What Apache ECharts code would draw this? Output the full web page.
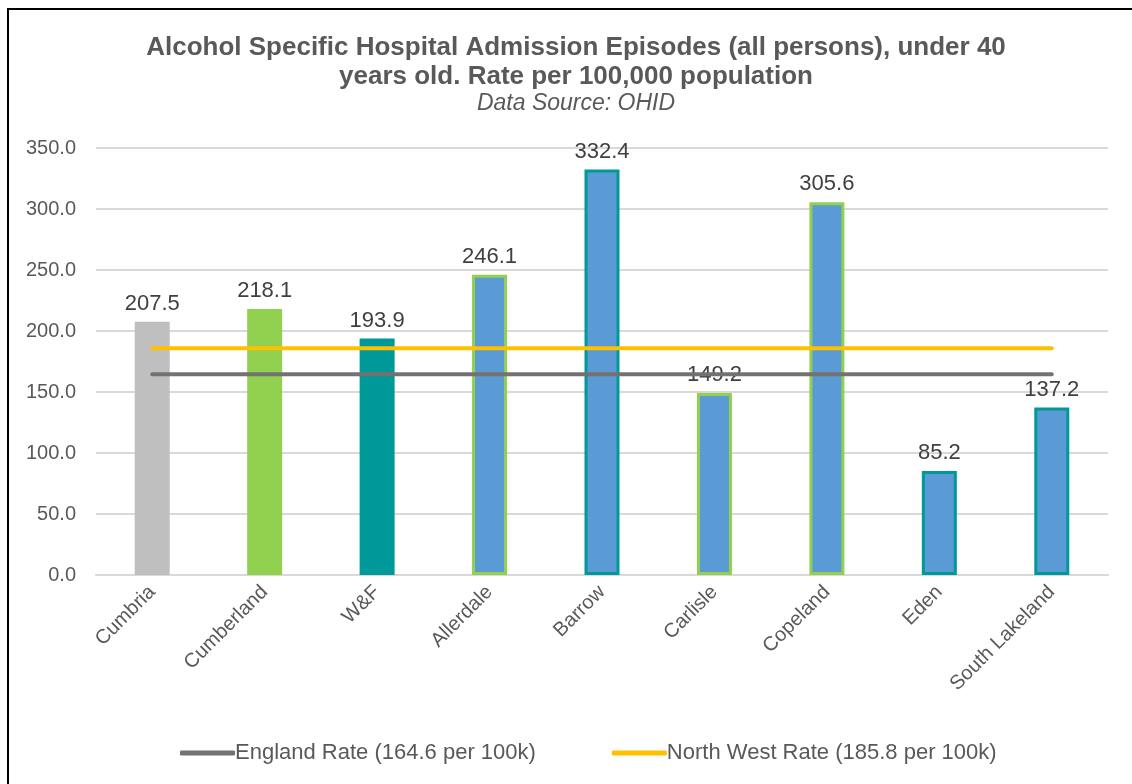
<!DOCTYPE html>
<html>
<head>
<meta charset="utf-8">
<script src="https://cdn.jsdelivr.net/npm/echarts@6/dist/echarts.min.js"></script>
<style>
html,body{margin:0;padding:0;background:#fff;}
#frame{position:absolute;left:7px;top:8px;width:1125px;height:776px;border-left:2px solid #000;border-top:2px solid #000;box-sizing:border-box;}
#chart{position:absolute;left:0;top:0;width:1132px;height:784px;}
</style>
</head>
<body>
<div id="frame"></div>
<div id="chart"></div>
<script>
const categories = ['Cumbria','Cumberland','W&F','Allerdale','Barrow','Carlisle','Copeland','Eden','South Lakeland'];
const rates = [207.5, 218.1, 193.9, 246.1, 332.4, 149.2, 305.6, 85.2, 137.2];
const englandRate = [164.6, 164.6, 164.6, 164.6, 164.6, 164.6, 164.6, 164.6, 164.6];
const northWestRate = [185.8, 185.8, 185.8, 185.8, 185.8, 185.8, 185.8, 185.8, 185.8];
const yTicks = [0, 50, 100, 150, 200, 250, 300, 350];

const styles = [
  {color:'#BFBFBF', borderColor:'#BFBFBF', borderWidth:0},
  {color:'#92D050', borderColor:'#92D050', borderWidth:0},
  {color:'#009999', borderColor:'#009999', borderWidth:0},
  {color:'#5B9BD5', borderColor:'#92D050', borderWidth:3},
  {color:'#5B9BD5', borderColor:'#009999', borderWidth:3},
  {color:'#5B9BD5', borderColor:'#92D050', borderWidth:3},
  {color:'#5B9BD5', borderColor:'#92D050', borderWidth:3},
  {color:'#5B9BD5', borderColor:'#009999', borderWidth:3},
  {color:'#5B9BD5', borderColor:'#009999', borderWidth:3}
];

const chart = echarts.init(document.getElementById('chart'));
const font = 'Liberation Sans, Arial, sans-serif';
chart.setOption({
  backgroundColor: 'transparent',
  animation: false,
  title: {
    text: 'Alcohol Specific Hospital Admission Episodes (all persons), under 40\nyears old. Rate per 100,000 population',
    subtext: 'Data Source: OHID',
    left: 571, top: 28, textAlign: 'center',
    itemGap: 0,
    textStyle: {fontFamily: font, fontSize: 26, fontWeight: 'bold', color: '#595959', lineHeight: 29},
    subtextStyle: {fontFamily: font, fontSize: 23, fontStyle: 'italic', color: '#595959', lineHeight: 25}
  },
  legend: {
    top: 737, left: 175,
    itemWidth: 55, itemHeight: 5, itemGap: 76,
    icon: 'roundRect',
    textStyle: {fontFamily: font, fontSize: 22, color: '#595959', padding: [0,0,0,-5]},
    data: [
      {name: 'England Rate (164.6 per 100k)', itemStyle: {color: '#767171'}},
      {name: 'North West Rate (185.8 per 100k)', itemStyle: {color: '#FFC000'}}
    ]
  },
  grid: {left: 96, right: 24, top: 148, bottom: 209},
  xAxis: {
    type: 'category', data: categories,
    axisLine: {show: true, lineStyle: {color: '#D9D9D9', width: 2}},
    axisTick: {show: false},
    axisLabel: {rotate: 45, interval: 0, fontFamily: font, fontSize: 20, color: '#595959', margin: 14}
  },
  yAxis: {
    type: 'value', min: yTicks[0], max: yTicks[yTicks.length-1], interval: 50,
    axisLine: {show: false}, axisTick: {show: false},
    splitLine: {lineStyle: {color: '#D9D9D9', width: 2}},
    axisLabel: {fontFamily: font, fontSize: 20, color: '#595959', margin: 20, formatter: v => v.toFixed(1)}
  },
  series: [
    {
      type: 'bar', name: 'Rate',
      barWidth: 35,
      data: rates.map((v, i) => ({value: v, itemStyle: styles[i]})),
      label: {show: true, position: 'top', distance: 7, fontFamily: font, fontSize: 22, color: '#404040', formatter: p => p.value.toFixed(1)},
      z: 2
    },
    {
      type: 'line', name: 'England Rate (164.6 per 100k)', data: englandRate,
      symbol: 'none', lineStyle: {color: '#767171', width: 4, cap: 'round'},
      itemStyle: {color: '#767171'}, z: 3
    },
    {
      type: 'line', name: 'North West Rate (185.8 per 100k)', data: northWestRate,
      symbol: 'none', lineStyle: {color: '#FFC000', width: 4, cap: 'round'},
      itemStyle: {color: '#FFC000'}, z: 3
    }
  ]
});
</script>
</body>
</html>
